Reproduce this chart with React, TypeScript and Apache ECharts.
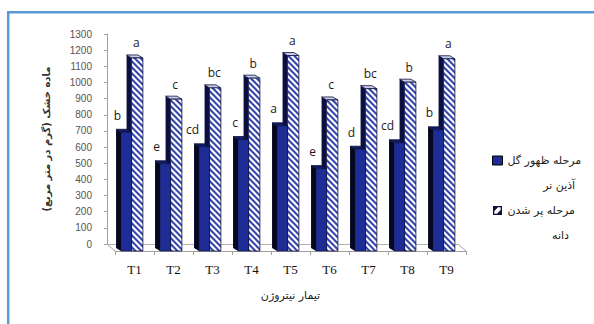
import React, { useEffect, useRef } from 'react';
import * as echarts from 'echarts';

// Nitrogen treatments and dry matter (g/m²) at two growth stages
const categories = ['T1', 'T2', 'T3', 'T4', 'T5', 'T6', 'T7', 'T8', 'T9'];
const floweringValues = [735, 540, 645, 690, 775, 510, 630, 670, 750];
const grainFillValues = [1195, 940, 1010, 1070, 1210, 935, 1005, 1045, 1190];
const floweringLetters = ['b', 'e', 'cd', 'c', 'a', 'e', 'd', 'cd', 'b'];
const grainFillLetters = ['a', 'c', 'bc', 'b', 'a', 'c', 'bc', 'b', 'a'];
const seriesNames = ['مرحله ظهور گل آذین نر', 'مرحله پر شدن دانه'];
const legendLines = [
  ['مرحله ظهور گل', 'آذین نر'],
  ['مرحله پر شدن', 'دانه'],
];
const yTitle = 'ماده خشک (گرم در متر مربع)';
const xTitle = 'تیمار نیتروژن';
const yMin = 0;
const yMax = 1300;
const yStep = 100;

const ARABIC_FONT = '"DejaVu Sans", sans-serif';

type Pt = [number, number];

// Sutherland–Hodgman clip of a polygon against the half-plane f(p) >= 0
function clipHalf(poly: Pt[], f: (p: Pt) => number): Pt[] {
  const out: Pt[] = [];
  for (let i = 0; i < poly.length; i++) {
    const a = poly[i];
    const b = poly[(i + 1) % poly.length];
    const fa = f(a);
    const fb = f(b);
    if (fa >= 0) out.push(a);
    if ((fa >= 0) !== (fb >= 0)) {
      const t = fa / (fa - fb);
      out.push([a[0] + (b[0] - a[0]) * t, a[1] + (b[1] - a[1]) * t]);
    }
  }
  return out;
}

// Diagonal "\" stripes filling a rectangle
function stripePolygons(x: number, y: number, w: number, h: number, period: number, color: string) {
  const rect: Pt[] = [[x, y], [x + w, y], [x + w, y + h], [x, y + h]];
  const cMin = y - (x + w);
  const cMax = y + h - x;
  const k0 = Math.floor(cMin / period) - 1;
  const k1 = Math.ceil(cMax / period) + 1;
  const els: any[] = [];
  for (let k = k0; k <= k1; k++) {
    const c = k * period;
    let p = clipHalf(rect, (q) => q[1] - q[0] - c);
    p = clipHalf(p, (q) => c + period / 2 - (q[1] - q[0]));
    if (p.length >= 3) {
      els.push({ type: 'polygon', shape: { points: p }, style: { fill: color } });
    }
  }
  return els;
}

function makeRenderer(kind: 'solid' | 'hatch') {
  const letters = kind === 'solid' ? floweringLetters : grainFillLetters;
  return (params: any, api: any) => {
    const idx = api.value(0);
    const v = api.value(1);
    const top = api.coord([idx, v]);
    const base = api.coord([idx, 0]);
    const bw = api.size([1, 0])[0];
    const start = top[0] - bw / 2;
    const x = kind === 'solid' ? start + bw * 0.155 : start + bw * 0.425;
    const w = kind === 'solid' ? bw * 0.27 : bw * 0.29;
    const y = top[1];
    const h = base[1] - top[1];
    const sx = 5;
    const sy = 3;
    const sideFill = kind === 'solid' ? '#05081f' : '#0b1040';
    const topFill = kind === 'solid' ? '#111a66' : '#c9cdeb';
    const children: any[] = [
      {
        type: 'polygon',
        shape: { points: [[x, y], [x - sx, y - sy], [x - sx, y + h - sy], [x, y + h]] },
        style: { fill: sideFill },
      },
      {
        type: 'polygon',
        shape: { points: [[x, y], [x - sx, y - sy], [x + w - sx, y - sy], [x + w, y]] },
        style: { fill: topFill, stroke: '#0a0f3a', lineWidth: 0.8 },
      },
    ];
    if (kind === 'solid') {
      children.push({
        type: 'rect',
        shape: { x, y, width: w, height: h },
        style: { fill: '#1e2d96', stroke: '#0a0f3a', lineWidth: 0.6 },
      });
      children.push({
        type: 'text',
        style: {
          text: letters[params.dataIndex],
          x: x + 1,
          y: y - 17,
          align: 'right',
          verticalAlign: 'middle',
          fontSize: 12,
          fontFamily: '"Open Sans", sans-serif',
          fill: '#1a1a1a',
          backgroundColor: '#ffffff',
          padding: [1, 1, 1, 1],
        },
      });
    } else {
      children.push({
        type: 'rect',
        shape: { x, y, width: w, height: h },
        style: { fill: '#ffffff' },
      });
      children.push(...stripePolygons(x, y, w, h, 6, '#3646ad'));
      children.push({
        type: 'rect',
        shape: { x, y, width: w, height: h },
        style: { fill: 'none', stroke: '#0a0f3a', lineWidth: 0.8 },
      });
      children.push({
        type: 'text',
        style: {
          text: letters[params.dataIndex],
          x: x + w / 2 - 1,
          y: y - 15,
          align: 'center',
          verticalAlign: 'middle',
          fontSize: 12,
          fontFamily: '"Open Sans", sans-serif',
          fill: '#1a1a1a',
        },
      });
    }
    return { type: 'group', children };
  };
}

export default function App() {
  const ref = useRef<HTMLDivElement>(null);

  useEffect(() => {
    if (!ref.current) return;
    const chart = echarts.init(ref.current, undefined, { renderer: 'svg' });
    const option: any = {
      animation: false,
      backgroundColor: '#ffffff',
      grid: [
        { left: 107, top: 34, right: 136, bottom: 80 },
        { left: 115, top: 41, right: 128, bottom: 73 },
      ],
      xAxis: [
        {
          type: 'category',
          gridIndex: 0,
          data: categories,
          axisLine: { show: true, lineStyle: { color: '#b4b4b4' } },
          axisTick: { show: false },
          axisLabel: { show: false },
        },
        {
          type: 'category',
          gridIndex: 1,
          data: categories,
          name: xTitle,
          nameLocation: 'middle',
          nameGap: 39,
          nameTextStyle: { fontFamily: ARABIC_FONT, fontSize: 11, color: '#222' },
          axisLine: { show: true, lineStyle: { color: '#a0a0a0' } },
          axisTick: { show: true, length: 4, lineStyle: { color: '#a0a0a0' } },
          axisLabel: { fontFamily: '"Liberation Serif", serif', fontSize: 13, color: '#111', margin: 12 },
        },
      ],
      yAxis: [
        {
          type: 'value',
          gridIndex: 0,
          min: yMin,
          max: yMax,
          interval: yStep,
          name: yTitle,
          nameLocation: 'middle',
          nameRotate: 90,
          nameGap: 56,
          nameTextStyle: { fontFamily: ARABIC_FONT, fontSize: 10, fontWeight: 'bold', color: '#333' },
          axisLine: { show: true, lineStyle: { color: '#a0a0a0' } },
          axisTick: { show: true, length: 3, lineStyle: { color: '#a0a0a0' } },
          splitLine: { show: false },
          axisLabel: {
            fontFamily: '"Liberation Sans", sans-serif',
            fontSize: 10,
            color: '#555',
            margin: 15,
            formatter: (v: number) => String(v),
          },
        },
        { type: 'value', gridIndex: 1, min: yMin, max: yMax, interval: yStep, show: false },
      ],
      legend: {
        orient: 'vertical',
        left: 492,
        top: 123,
        padding: 0,
        itemGap: -25,
        itemWidth: 10,
        itemHeight: 9,
        data: [
          {
            name: seriesNames[0],
            icon: 'rect',
            itemStyle: { color: '#1e2d96', borderColor: '#000', borderWidth: 1 },
          },
          {
            name: seriesNames[1],
            icon: 'path://M0,0H10V10H0Z M1.5,1.5V8.5H8.5V1.5Z M1.5,1.5H5.5L1.5,5.5Z M8.5,8.5H4.5L8.5,4.5Z',
            itemStyle: { color: '#0b1040' },
          },
        ],
        formatter: (name: string) => {
          const i = seriesNames.indexOf(name);
          return `{a|${legendLines[i][0]}}\n{b|${legendLines[i][1]}}`;
        },
        textStyle: {
          fontFamily: ARABIC_FONT,
          fontSize: 11,
          color: '#222',
          lineHeight: 25,
          padding: [25, 0, 0, 0],
          rich: {
            a: { fontFamily: ARABIC_FONT, fontSize: 11, lineHeight: 25, color: '#222' },
            b: { fontFamily: ARABIC_FONT, fontSize: 11, lineHeight: 25, color: '#222', align: 'right', padding: [0, 6, 0, 0] },
          },
        },
      },
      series: [
        {
          type: 'custom',
          name: seriesNames[1],
          xAxisIndex: 1,
          yAxisIndex: 1,
          z: 2,
          data: grainFillValues.map((v, i) => [i, v]),
          renderItem: makeRenderer('hatch'),
        },
        {
          type: 'custom',
          name: seriesNames[0],
          xAxisIndex: 1,
          yAxisIndex: 1,
          z: 3,
          data: floweringValues.map((v, i) => [i, v]),
          renderItem: makeRenderer('solid'),
        },
      ],
      graphic: [
        {
          type: 'rect',
          silent: true,
          shape: { x: 8.2, y: 12.2, width: 620, height: 340 },
          style: { fill: 'none', stroke: '#5b9bd5', lineWidth: 2.5 },
        },
        {
          type: 'line',
          silent: true,
          shape: { x1: 107, y1: 244, x2: 115, y2: 251 },
          style: { stroke: '#a0a0a0', lineWidth: 1 },
        },
        {
          type: 'line',
          silent: true,
          shape: { x1: 458, y1: 244, x2: 466, y2: 251 },
          style: { stroke: '#a0a0a0', lineWidth: 1 },
        },
      ],
    };
    chart.setOption(option);
    return () => chart.dispose();
  }, []);

  return (
    <div
      ref={ref}
      style={{ position: 'fixed', left: 0, top: 0, width: 594, height: 324 }}
    />
  );
}
